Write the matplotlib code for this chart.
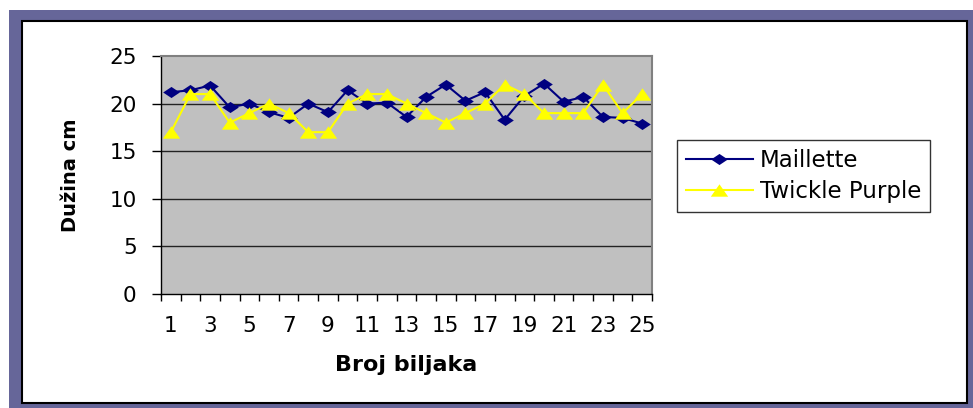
import matplotlib
matplotlib.use("Agg")
import matplotlib.pyplot as plt
from matplotlib.patches import Rectangle
import numpy as np

# plant number 1..25
plants = list(range(1, 26))

# length in cm
maillette = [21.2, 21.4, 21.9, 19.6, 20.0, 19.1, 18.5, 20.0, 19.1, 21.4,
             20.0, 20.1, 18.6, 20.7, 22.0, 20.3, 21.2, 18.3, 20.8, 22.1,
             20.2, 20.7, 18.6, 18.5, 17.9]
twickle_purple = [17, 21, 21, 18, 19, 20, 19, 17, 17, 20,
                  21, 21, 20, 19, 18, 19, 20, 22, 21, 19,
                  19, 19, 22, 19, 21]

plt.rcParams['font.family'] = ['DejaVu Sans']

fig = plt.figure(figsize=(9.73, 4.08), dpi=100)

# purple outer frame + white inner panel with black border
fig.patches.append(Rectangle((9 / 973, 0), 1 - 9 / 973, 398 / 408, transform=fig.transFigure,
                             facecolor='#666699', edgecolor='none', zorder=-2))
fig.patches.append(Rectangle((22 / 973, 5 / 408), 945 / 973, 382 / 408, transform=fig.transFigure,
                             facecolor='white', edgecolor='black', linewidth=1.5, zorder=-1))

ax = fig.add_axes([161 / 973, 1 - 294 / 408, 491 / 973, 238 / 408])
ax.set_facecolor('#C0C0C0')

diamond = [(-1.5, 0), (0, 1), (1.5, 0), (0, -1), (-1.5, 0)]
triangle = [(-1.4, -1), (1.4, -1), (0, 1), (-1.4, -1)]

ax.plot(plants, maillette, color='#000080', linewidth=1.5, marker=diamond,
        markersize=12, markeredgewidth=0, label='Maillette', zorder=3)
ax.plot(plants, twickle_purple, color='#FFFF00', linewidth=1.5, marker=triangle,
        markersize=12.5, markeredgewidth=0, label='Twickle Purple', zorder=3)

ax.set_xlim(0.5, 25.5)
ax.set_ylim(0, 25)

for yv in [5, 10, 15, 20]:
    ax.axhline(yv, color='#222222', linewidth=1, zorder=1)

ax.set_yticks([0, 5, 10, 15, 20, 25])
ax.tick_params(axis='y', direction='out', length=6.5, width=1, pad=11, labelsize=15.5)

ax.set_xticks(plants[::2])
ax.set_xticks(np.arange(0.5, 26, 1), minor=True)
ax.tick_params(axis='x', which='major', length=0, pad=16, labelsize=15.5)
ax.tick_params(axis='x', which='minor', direction='out', length=5, width=1)

for side in ['top', 'right']:
    ax.spines[side].set_color('#808080')
    ax.spines[side].set_linewidth(1.5)
for side in ['left', 'bottom']:
    ax.spines[side].set_color('black')
    ax.spines[side].set_linewidth(1)

ax.set_xlabel('Broj biljaka', fontsize=16, fontweight='bold')
ax.xaxis.label.set_verticalalignment('center')
ax.xaxis.set_label_coords(0.5, (294 - 365) / 238)

ax.set_ylabel('Dužina cm', fontsize=14, fontweight='bold')
ax.yaxis.label.set_verticalalignment('center')
ax.yaxis.set_label_coords((70 - 161) / 491, 0.5)

leg = fig.legend(loc='upper left', bbox_to_anchor=(677 / 973, 1 - 140 / 408),
                 bbox_transform=fig.transFigure, borderaxespad=0, fontsize=16.5,
                 frameon=True, fancybox=False, handlelength=2.9, handletextpad=0.3,
                 borderpad=0.4, labelspacing=0.35)
leg.get_frame().set_edgecolor('black')
leg.get_frame().set_linewidth(1)

fig.savefig('out.png', dpi=100)
